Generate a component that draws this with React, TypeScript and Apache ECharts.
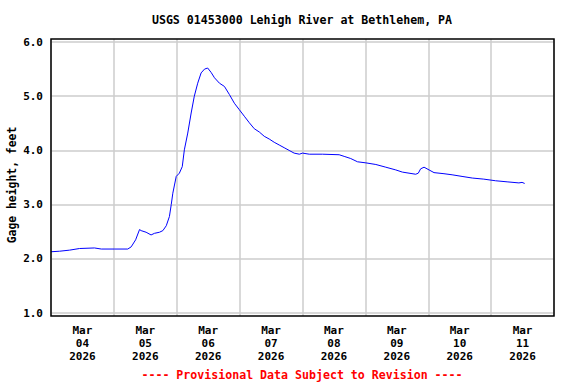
import React, { useEffect, useRef } from "react";
import * as echarts from "echarts";

// Hours since Mar 04 2026 00:00
const hoursSinceStart: number[] = [
  0, 3.3, 7.1, 10.9, 16.6, 19.2, 24.3, 29.3, 30.6, 32.3, 33.8, 34.4, 36.3, 38.2, 39.5, 41.4,
  42.7, 44.0, 45.2, 45.9, 46.5, 47.8, 49.0, 50.1, 50.9, 52.2, 53.5, 54.7, 56.0, 57.3, 58.6,
  59.8, 61.1, 62.4, 64.3, 66.2, 68.1, 70.0, 71.9, 73.8, 75.7, 77.6, 79.5, 81.4, 83.3, 85.2,
  87.1, 89.0, 90.9, 92.8, 94.8, 96.0, 98.6, 103.6, 110.0, 111.9, 114.4, 117.0, 120.2, 124.0,
  127.8, 131.6, 134.1, 139.2, 140.2, 141.1, 142.4, 144.3, 146.2, 150.0, 153.1, 156.9, 160.8,
  165.2, 169.7, 174.1, 178.6, 179.8, 180.8,
];
const gageHeightFeet: number[] = [
  2.13, 2.14, 2.16, 2.19, 2.2, 2.18, 2.18, 2.18, 2.22, 2.35, 2.54, 2.52, 2.49, 2.44, 2.47, 2.49,
  2.52, 2.61, 2.78, 3.0, 3.21, 3.52, 3.58, 3.7, 4.01, 4.32, 4.69, 5.0, 5.24, 5.43, 5.5,
  5.52, 5.44, 5.34, 5.24, 5.18, 5.03, 4.87, 4.75, 4.63, 4.51, 4.4, 4.34, 4.26, 4.21, 4.15,
  4.1, 4.05, 4.0, 3.95, 3.93, 3.95, 3.93, 3.93, 3.92, 3.89, 3.85, 3.79, 3.77, 3.74,
  3.69, 3.64, 3.6, 3.56, 3.58, 3.66, 3.69, 3.64, 3.59, 3.57, 3.55, 3.52, 3.49,
  3.47, 3.44, 3.42, 3.4, 3.41, 3.39,
];
const dayLabels: string[] = ["04", "05", "06", "07", "08", "09", "10", "11"];
const monthLabel = "Mar";
const yearLabel = "2026";
const titleText = "USGS 01453000 Lehigh River at Bethlehem, PA";
const yAxisTitle = "Gage height, feet";
const footerText = "---- Provisional Data Subject to Revision ----";

const FONT = "DejaVu Sans Mono";

export default function App() {
  const ref = useRef<HTMLDivElement>(null);
  useEffect(() => {
    if (!ref.current) return;
    const chart = echarts.init(ref.current, null, { renderer: "svg" });
    const data = hoursSinceStart.map((h, i) => [h, gageHeightFeet[i]]);
    chart.setOption({
      animation: false,
      backgroundColor: "#ffffff",
      grid: [
        { left: 51, right: 22, top: 42, bottom: 71, show: false },
        { left: 51, right: 22, top: 39, bottom: 68, show: true, borderColor: "#000000", borderWidth: 1.5, backgroundColor: "transparent", z: 5 },
      ],
      xAxis: [
        {
          type: "value",
          gridIndex: 0,
          min: 0,
          max: 192,
          interval: 12,
          axisLine: { show: false },
          axisTick: { show: false },
          splitLine: { show: false },
          axisLabel: {
            margin: 11,
            fontFamily: FONT,
            fontWeight: "bold",
            fontSize: 11,
            lineHeight: 13,
            color: "#000",
            showMinLabel: true,
            showMaxLabel: true,
            formatter: (v: number) => {
              if (Math.round(v) % 24 !== 12) return "";
              const idx = Math.round((v - 12) / 24);
              return `${monthLabel}\n${dayLabels[idx] ?? ""}\n${yearLabel}`;
            },
          },
        },
        {
          type: "value",
          gridIndex: 1,
          min: 0,
          max: 192,
          interval: 24,
          axisLine: { show: false },
          axisTick: { show: false },
          axisLabel: { show: false },
          splitLine: { show: true, lineStyle: { color: "#cccccc", width: 1.5 } },
        },
      ],
      yAxis: [
        {
          type: "value",
          gridIndex: 0,
          min: 1,
          max: 6,
          interval: 1,
          axisLine: { show: false },
          axisTick: { show: false },
          splitLine: { show: true, lineStyle: { color: "#cccccc", width: 1.5 } },
          axisLabel: {
            margin: 8,
            fontFamily: FONT,
            fontWeight: "bold",
            fontSize: 11,
            color: "#000",
            formatter: (v: number) => v.toFixed(1),
          },
        },
        {
          type: "value",
          gridIndex: 1,
          min: 0,
          max: 1,
          show: false,
          splitLine: { show: false },
        },
      ],
      series: [
        {
          type: "line",
          xAxisIndex: 0,
          yAxisIndex: 0,
          data,
          showSymbol: false,
          symbol: "none",
          lineStyle: { color: "#0000ff", width: 1 },
          z: 3,
        },
      ],
      graphic: [
        {
          type: "text",
          x: 302,
          y: 20,
          style: {
            text: titleText,
            fontFamily: FONT,
            fontWeight: "bold",
            fontSize: 11.6,
            fill: "#000",
            textAlign: "center",
            textVerticalAlign: "middle",
          },
        },
        {
          type: "text",
          x: 12,
          y: 185,
          rotation: Math.PI / 2,
          style: {
            text: yAxisTitle,
            fontFamily: FONT,
            fontWeight: "bold",
            fontSize: 11.4,
            fill: "#000",
            textAlign: "center",
            textVerticalAlign: "middle",
          },
        },
        {
          type: "text",
          x: 302,
          y: 375,
          style: {
            text: footerText,
            fontFamily: FONT,
            fontWeight: "bold",
            fontSize: 11.6,
            fill: "#ff0000",
            textAlign: "center",
            textVerticalAlign: "middle",
          },
        },
      ],
    });
    return () => chart.dispose();
  }, []);
  return <div ref={ref} style={{ width: 576, height: 384, position: "absolute", left: 0, top: 0 }} />;
}
